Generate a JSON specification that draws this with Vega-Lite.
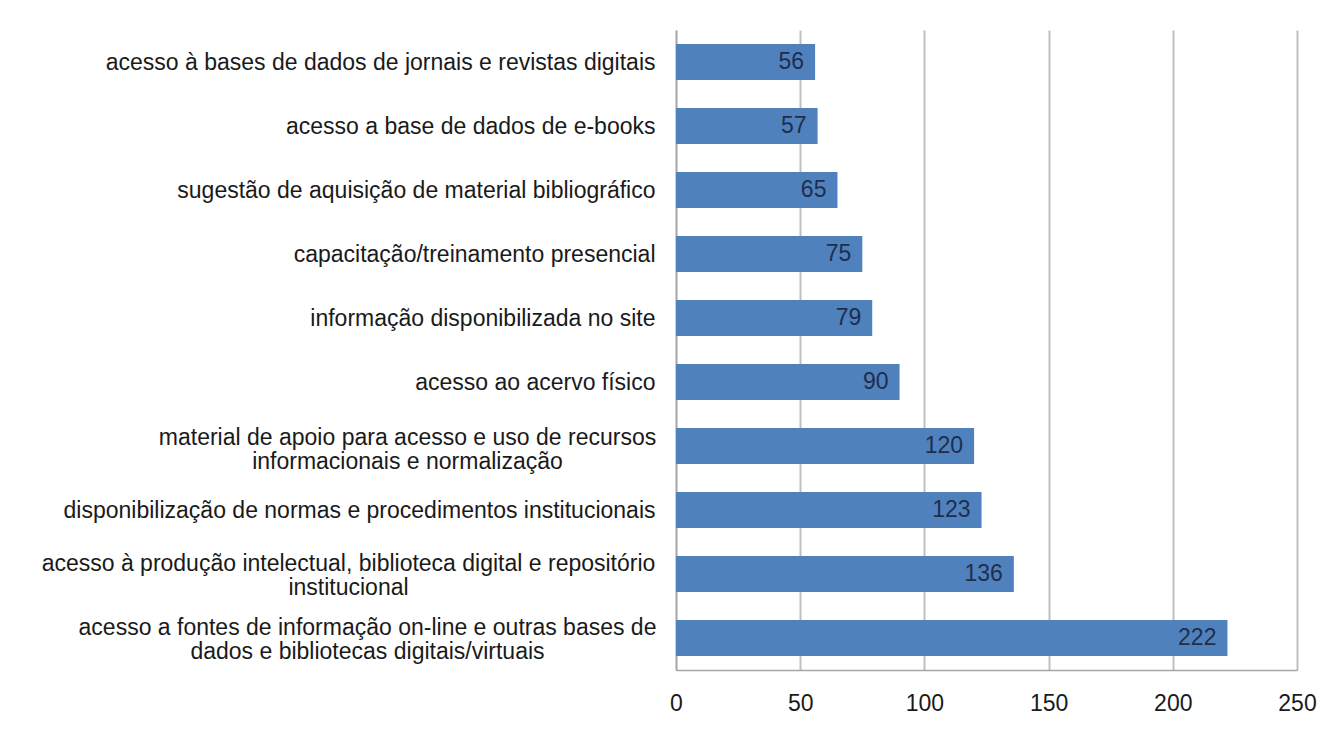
{
  "$schema": "https://vega.github.io/schema/vega-lite/v6.json",
  "autosize": {"type": "none"},
  "width": 621,
  "height": 640,
  "padding": {"left": 676, "top": 30, "right": 27, "bottom": 63},
  "background": "white",
  "config": {
    "view": {"stroke": null},
    "font": "Liberation Sans"
  },
  "data": {
    "values": [
      {"categoria": "acesso à bases de dados de jornais e revistas digitais", "valor": 56},
      {"categoria": "acesso a base de dados de e-books", "valor": 57},
      {"categoria": "sugestão de aquisição de material bibliográfico", "valor": 65},
      {"categoria": "capacitação/treinamento presencial", "valor": 75},
      {"categoria": "informação disponibilizada no site", "valor": 79},
      {"categoria": "acesso ao acervo físico", "valor": 90},
      {"categoria": "material de apoio para acesso e uso de recursos|informacionais e normalização", "valor": 120},
      {"categoria": "disponibilização de normas e procedimentos institucionais", "valor": 123},
      {"categoria": "acesso à produção intelectual, biblioteca digital e repositório|institucional", "valor": 136},
      {"categoria": "acesso a fontes de informação on-line e outras bases de|dados e bibliotecas digitais/virtuais", "valor": 222}
    ]
  },
  "encoding": {
    "y": {
      "field": "categoria",
      "type": "nominal",
      "sort": null,
      "scale": {"paddingInner": 0.44, "paddingOuter": 0.22},
      "axis": {
        "title": null,
        "ticks": false,
        "domain": true,
        "domainColor": "#A6A6A6",
        "domainWidth": 1.5,
        "labelExpr": "split(datum.label, '|')",
        "labelFontSize": 23,
        "labelColor": "#1a1a1a",
        "labelAlign": {"condition": {"test": "length(split(datum.value, '|')) > 1", "value": "center"}, "value": "right"},
        "labelOffset": {"condition": [
          {"test": "datum.value == 'material de apoio para acesso e uso de recursos|informacionais e normalização'", "value": -8},
          {"test": "length(split(datum.value, '|')) > 1", "value": -10}
        ], "value": 1},
        "labelPadding": {"condition": [
          {"test": "datum.value == 'material de apoio para acesso e uso de recursos|informacionais e normalização'", "value": 269},
          {"test": "datum.value == 'acesso à produção intelectual, biblioteca digital e repositório|institucional'", "value": 328},
          {"test": "datum.value == 'acesso a fontes de informação on-line e outras bases de|dados e bibliotecas digitais/virtuais'", "value": 309}
        ], "value": 21},
        "labelLimit": 700,
        "labelLineHeight": 24
      }
    },
    "x": {
      "field": "valor",
      "type": "quantitative",
      "scale": {"domain": [0, 250], "nice": false},
      "axis": {
        "title": null,
        "values": [0, 50, 100, 150, 200, 250],
        "ticks": false,
        "grid": true,
        "gridColor": "#BFBFBF",
        "gridWidth": 2,
        "domainColor": "#A6A6A6",
        "domainWidth": 1.5,
        "labelFontSize": 23,
        "labelColor": "#1a1a1a",
        "labelPadding": 22,
        "labelFlush": false
      }
    }
  },
  "layer": [
    {"mark": {"type": "bar", "color": "#4F81BD"}},
    {
      "mark": {"type": "text", "align": "right", "baseline": "middle", "dx": -11, "fontSize": 23, "color": "#1F2E4D"},
      "encoding": {"text": {"field": "valor", "type": "quantitative"}}
    }
  ]
}
